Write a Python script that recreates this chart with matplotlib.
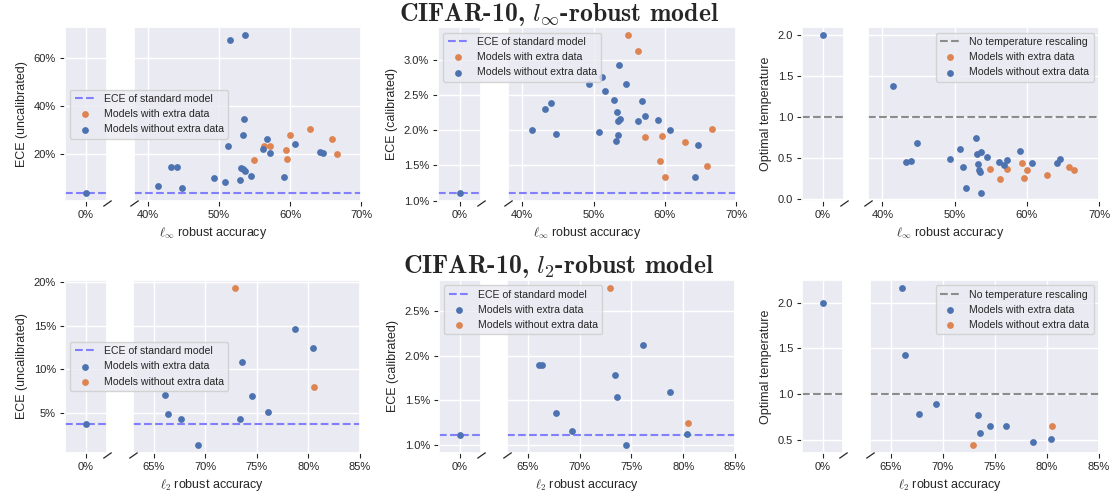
import matplotlib
matplotlib.use('Agg')
import matplotlib.pyplot as plt
import seaborn as sns
from matplotlib.ticker import PercentFormatter

# ---- l_inf-robust models (accuracy and ECE in %) ----
linf_acc_noextra = [41.4, 43.2, 44.0, 44.8, 49.3, 50.8, 51.2, 51.6, 52.9, 53.1, 53.3, 53.4,
                    53.5, 53.6, 53.7, 54.5, 56.2, 56.8, 57.2, 59.1, 60.7, 64.2, 64.6]
linf_ece_noextra = [6.9, 14.6, 14.7, 6.0, 9.9, 8.3, 23.6, 67.8, 9.4, 14.3, 28.1, 13.9,
                    34.6, 13.1, 69.6, 11.0, 22.1, 26.3, 20.3, 10.7, 24.2, 20.8, 20.6]
linf_cal_noextra = [2.00, 2.30, 2.39, 1.95, 2.66, 1.98, 2.77, 2.57, 2.43, 1.85, 2.26, 2.13,
                    1.94, 2.94, 2.16, 2.66, 2.13, 2.42, 2.20, 2.15, 2.00, 1.34, 1.79]
linf_temp_noextra = [1.38, 0.45, 0.46, 0.68, 0.48, 0.61, 0.38, 0.13, 0.74, 0.54, 0.42, 0.35,
                     0.32, 0.57, 0.07, 0.51, 0.45, 0.41, 0.47, 0.58, 0.43, 0.43, 0.48]

linf_acc_extra = [54.9, 56.3, 57.2, 59.4, 59.6, 60.0, 62.8, 65.9, 66.6]
linf_ece_extra = [17.6, 23.3, 23.3, 21.8, 18.1, 27.8, 30.3, 26.5, 20.0]
linf_cal_extra = [3.36, 3.14, 1.90, 1.56, 1.92, 1.33, 1.83, 1.49, 2.02]
linf_temp_extra = [0.36, 0.24, 0.36, 0.43, 0.25, 0.35, 0.29, 0.39, 0.35]

# ---- l_2-robust models ----
l2_acc_extra = [66.1, 66.4, 67.7, 69.3, 73.4, 73.6, 74.5, 76.1, 78.7, 80.4]
l2_ece_extra = [7.05, 4.96, 4.3, 1.4, 4.4, 10.8, 7.0, 5.2, 14.6, 12.4]
l2_cal_extra = [1.89, 1.90, 1.36, 1.16, 1.78, 1.54, 1.00, 2.12, 1.59, 1.12]
l2_temp_extra = [2.16, 1.43, 0.79, 0.90, 0.78, 0.58, 0.66, 0.65, 0.48, 0.51]

l2_acc_noextra = [72.9, 80.5]
l2_ece_noextra = [19.3, 8.0]
l2_cal_noextra = [2.76, 1.25]
l2_temp_noextra = [0.45, 0.65]

# standard (non-robust) model: 0% robust accuracy
std_acc = 0.0
std_ece_linf, std_cal_linf, std_temp_linf = 3.9, 1.11, 2.0
std_ece_l2, std_cal_l2, std_temp_l2 = 3.75, 1.11, 2.0

sns.set_theme(style='darkgrid')
plt.rcParams['font.family'] = ['Liberation Sans', 'DejaVu Sans']
plt.rcParams['mathtext.fontset'] = 'cm'

BLUE = '#4C72B0'
ORANGE = '#DD8452'
W, H = 1118, 497

fig = plt.figure(figsize=(W / 100, H / 100), dpi=100)


def box(x0, x1, y0, y1):
    return [x0 / W, 1 - y1 / H, (x1 - x0) / W, (y1 - y0) / H]


def panel(lpx, rpx, top, bot, xlim_l, xlim_r, xticks, series, std_y, ref, ylabel,
          ydec, legend_loc, legend_left, xlabel):
    axl = fig.add_axes(box(lpx[0], lpx[1], top, bot))
    axr = fig.add_axes(box(rpx[0], rpx[1], top, bot), sharey=axl)
    for ax in (axl, axr):
        ax.axhline(ref[0], color=ref[1], linestyle='--', linewidth=1.5, label=ref[2])
        for x, y, c, lab in series:
            ax.scatter(x, y, s=24, color=c, linewidths=0, label=lab, zorder=3)
        ax.scatter([std_acc], [std_y], s=24, color=BLUE, linewidths=0, zorder=3)
        ax.tick_params(axis='both', labelsize=8, length=3.5, width=0.8, color='.15', pad=3)
        ax.xaxis.set_major_formatter(PercentFormatter(decimals=0))
    axl.set_xlim(*xlim_l)
    axl.set_xticks([0])
    axr.set_xlim(*xlim_r)
    axr.set_xticks(xticks)
    axl.tick_params(left=True, bottom=True)
    axr.tick_params(left=False, labelleft=False, bottom=True)
    if ydec is not None:
        axl.yaxis.set_major_formatter(PercentFormatter(decimals=ydec))
    axl.set_ylabel(ylabel, fontsize=9)

    # break marks
    mk = dict(marker=[(-1, -0.7), (1, 0.7)], markersize=6, linestyle='none',
              color='.15', mec='.15', mew=0.9, clip_on=False, zorder=10)
    axl.plot([1], [-0.012], transform=axl.transAxes, **mk)
    axr.plot([0], [-0.012], transform=axr.transAxes, **mk)

    h, l = axr.get_legend_handles_labels()
    target = axl if legend_left else axr
    target.legend(h, l, loc=legend_loc, fontsize=7.6)
    if legend_left:
        axl.set_zorder(3)
    fig.text((lpx[0] + rpx[1]) / 2 / W, 1 - (bot + 32) / H, xlabel, fontsize=9,
             ha='center', va='center')


# row 1: l_inf
T1, B1 = 27.3, 200.7
xl_inf = r'$\ell_\infty$ robust accuracy'
s_ece = [(linf_acc_extra, linf_ece_extra, ORANGE, 'Models with extra data'),
         (linf_acc_noextra, linf_ece_noextra, BLUE, 'Models without extra data')]
s_cal = [(linf_acc_extra, linf_cal_extra, ORANGE, 'Models with extra data'),
         (linf_acc_noextra, linf_cal_noextra, BLUE, 'Models without extra data')]
s_tmp = [(linf_acc_extra, linf_temp_extra, ORANGE, 'Models with extra data'),
         (linf_acc_noextra, linf_temp_noextra, BLUE, 'Models without extra data')]
panel((65, 107), (134, 361), T1, B1, (-2.93, 2.93), (38, 70), [40, 50, 60, 70], s_ece,
      std_ece_linf, (std_ece_linf, (0.5, 0.5, 1.0), 'ECE of standard model'),
      'ECE (uncalibrated)', 0, 'center left', True, xl_inf)
panel((438, 481), (508, 736), T1, B1, (-2.93, 2.93), (38, 70), [40, 50, 60, 70], s_cal,
      std_cal_linf, (std_cal_linf, (0.5, 0.5, 1.0), 'ECE of standard model'),
      'ECE (calibrated)', 1, 'upper left', True, xl_inf)
panel((802, 844), (868, 1099), T1, B1, (-2.93, 2.93), (38, 70), [40, 50, 60, 70], s_tmp,
      std_temp_linf, (1.0, '0.55', 'No temperature rescaling'),
      'Optimal temperature', None, 'upper right', False, xl_inf)

# row 2: l_2
T2, B2 = 280.0, 452.7
xl_2 = r'$\ell_2$ robust accuracy'
s_ece = [(l2_acc_extra, l2_ece_extra, BLUE, 'Models with extra data'),
         (l2_acc_noextra, l2_ece_noextra, ORANGE, 'Models without extra data')]
s_cal = [(l2_acc_extra, l2_cal_extra, BLUE, 'Models with extra data'),
         (l2_acc_noextra, l2_cal_noextra, ORANGE, 'Models without extra data')]
s_tmp = [(l2_acc_extra, l2_temp_extra, BLUE, 'Models with extra data'),
         (l2_acc_noextra, l2_temp_noextra, ORANGE, 'Models without extra data')]
panel((65, 107), (133, 360), T2, B2, (-2, 2), (63, 85), [65, 70, 75, 80, 85], s_ece,
      std_ece_l2, (std_ece_l2, (0.5, 0.5, 1.0), 'ECE of standard model'),
      'ECE (uncalibrated)', 0, 'center left', True, xl_2)
panel((439, 481), (507, 735), T2, B2, (-2, 2), (63, 85), [65, 70, 75, 80, 85], s_cal,
      std_cal_l2, (std_cal_l2, (0.5, 0.5, 1.0), 'ECE of standard model'),
      'ECE (calibrated)', 1, 'upper left', True, xl_2)
panel((802, 843), (870, 1099), T2, B2, (-2, 2), (63, 85), [65, 70, 75, 80, 85], s_tmp,
      std_temp_l2, (1.0, '0.55', 'No temperature rescaling'),
      'Optimal temperature', None, 'upper right', False, xl_2)

fig.text(0.5, 1 - 21 / H, r'CIFAR-10, $l_\infty$-robust model', fontfamily='cmb10',
         fontsize=18.5, ha='center', va='baseline')
fig.text(0.5, 1 - 273 / H, r'CIFAR-10, $l_2$-robust model', fontfamily='cmb10',
         fontsize=18.5, ha='center', va='baseline')

fig.savefig('out.png', dpi=100)
